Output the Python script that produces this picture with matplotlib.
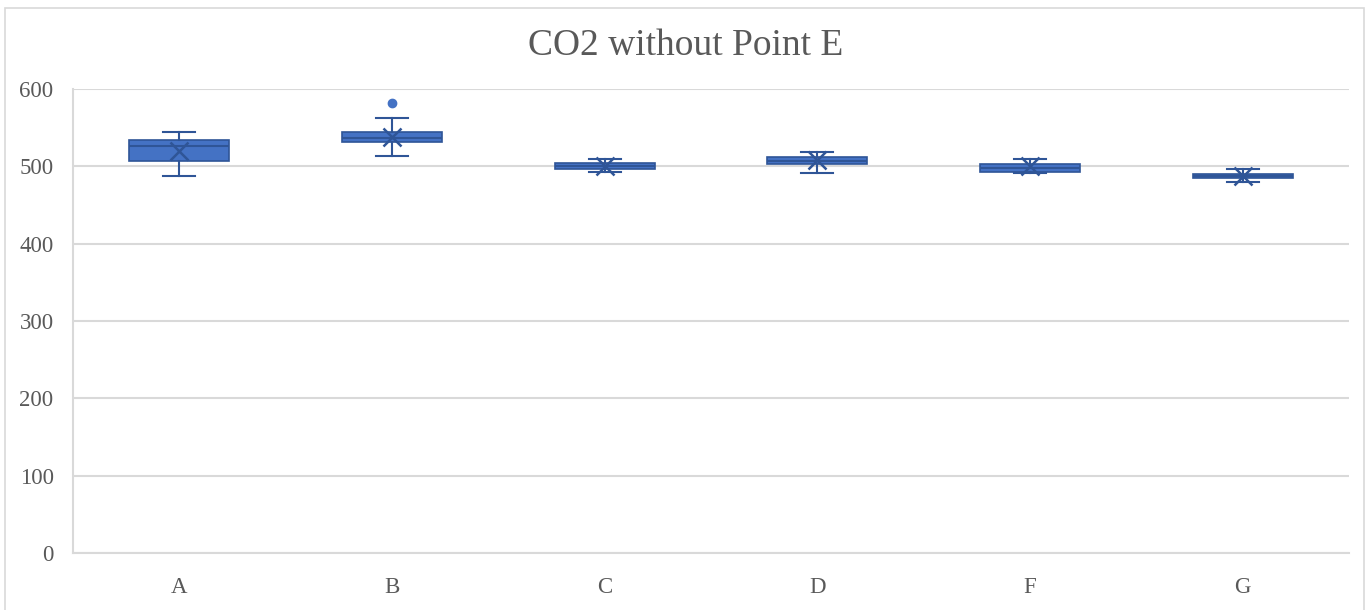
import matplotlib.pyplot as plt
from matplotlib.patches import Rectangle

categories = ["A", "B", "C", "D", "F", "G"]
whislo = [487.5, 514, 492.5, 492, 491, 479.5]
q1 = [507, 531, 496.5, 502.5, 493, 484.5]
med = [526, 537, 500.5, 507.5, 498, 487.5]
q3 = [534, 544, 504.5, 512.5, 502.5, 490.5]
whishi = [544, 562, 510, 518, 510, 496]
means = [520, 538, 500.5, 508, 500, 488]
outliers = [[], [582], [], [], [], []]

plt.rcParams["font.family"] = ["Liberation Serif", "DejaVu Serif"]

stats = []
for i in range(len(categories)):
    stats.append({
        "label": categories[i],
        "whislo": whislo[i],
        "q1": q1[i],
        "med": med[i],
        "q3": q3[i],
        "whishi": whishi[i],
        "mean": means[i],
        "fliers": outliers[i],
    })

fig = plt.figure(figsize=(13.71, 6.10), dpi=100)
ax = fig.add_axes([73 / 1371, 1 - 553 / 610, 1276 / 1371, 464 / 610])

fill = "#4472C4"
edge = "#2F5597"
ax.bxp(
    stats,
    positions=range(len(categories)),
    widths=0.47,
    patch_artist=True,
    showmeans=True,
    boxprops=dict(facecolor=fill, edgecolor=edge, linewidth=1.2),
    medianprops=dict(color=edge, linewidth=1.5),
    whiskerprops=dict(color=edge, linewidth=1.5),
    capprops=dict(color=edge, linewidth=1.5),
    capwidths=0.15,
    meanprops=dict(marker="x", markeredgecolor=edge, markersize=13, markeredgewidth=1.8),
    flierprops=dict(marker="o", markerfacecolor=fill, markeredgecolor=fill, markersize=6),
    zorder=3,
)

ax.set_xlim(-0.5, len(categories) - 0.5)
ax.set_ylim(0, 600)
ax.set_yticks(range(0, 601, 100))
ax.yaxis.grid(True, color="#D9D9D9", linewidth=1.5)
ax.set_axisbelow(True)
for s in ["top", "right"]:
    ax.spines[s].set_visible(False)
ax.spines["left"].set_color("#D9D9D9")
ax.spines["bottom"].set_color("#D9D9D9")
ax.spines["left"].set_linewidth(1.5)
ax.spines["bottom"].set_linewidth(1.5)
ax.tick_params(length=0, labelsize=16.5, labelcolor="#595959")
ax.tick_params(axis="y", pad=14)
ax.tick_params(axis="x", pad=17)

fig.text(0.5, 1 - 46 / 610, "CO2 without Point E", ha="center", va="center",
         fontsize=27, color="#595959")

fig.patches.append(Rectangle((5 / 1371, -0.01), 1359 / 1371, 1 - 8 / 610 + 0.01,
                             transform=fig.transFigure, fill=False,
                             edgecolor="#D9D9D9", linewidth=1.2))

fig.savefig("out.png", dpi=100)
